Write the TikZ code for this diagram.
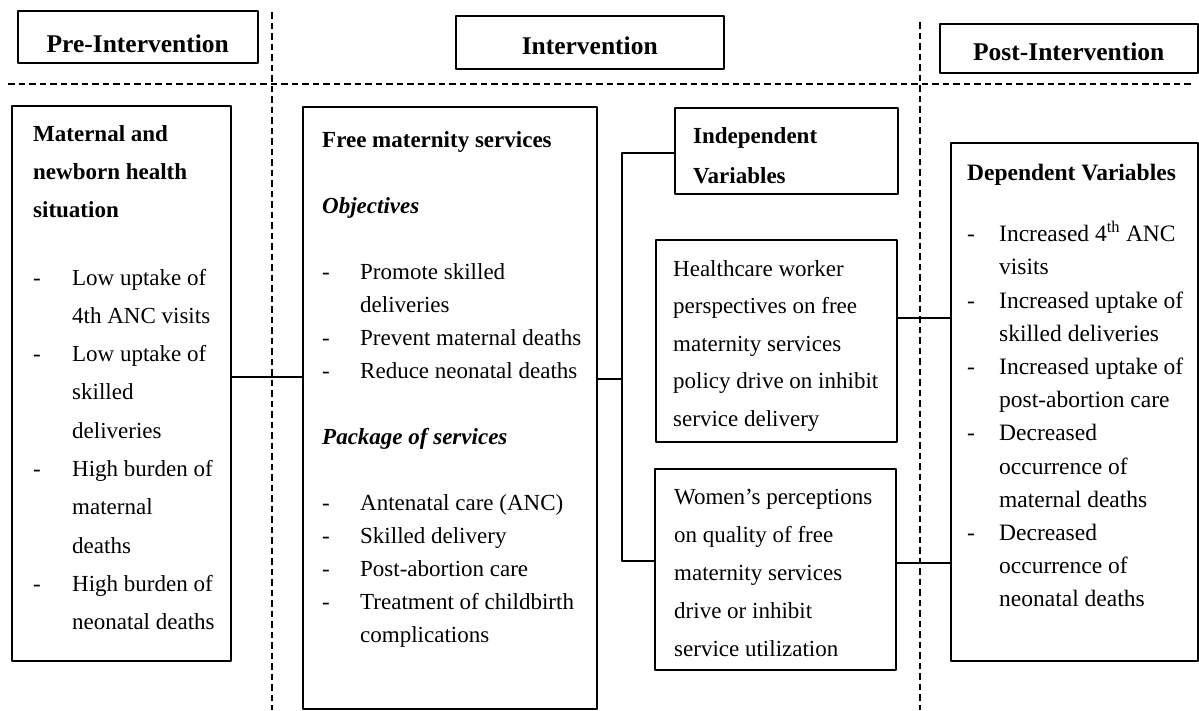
\documentclass[tikz,border=0pt]{standalone}
\usepackage{fontspec}
\setmainfont{Liberation Serif}

\newlength{\itmw}
\newcommand{\itm}{\makebox[\itmw][l]{-}}
\newcommand{\cnt}{\hspace*{\itmw}}

\begin{document}
\begin{tikzpicture}[x=1pt,y=-1pt,line cap=round,line join=round,
    panel/.style={draw, line width=1.5pt, anchor=north west, inner sep=0pt},
    head/.style={panel, font=\fontsize{25.5}{30}\selectfont\bfseries},
    txt/.style={anchor=north west, inner sep=0pt, align=left},
    conn/.style={line width=1.6pt},
    divider/.style={line width=1.3pt, line cap=butt, dash pattern=on 6.5pt off 4pt}]

    \useasboundingbox (0,0) rectangle (1199,710);

    % phase dividers
    \draw[divider] (8,84) -- (1192,84);
    \draw[divider] (272,12) -- (272,710);
    \draw[divider] (920,22) -- (920,710);

    % phase headings
    \node[head, minimum width=240pt, text height=42pt, text depth=10pt] (pre) at (17,10) {Pre-Intervention};
    \node[head, minimum width=268pt, text height=39pt, text depth=14pt] (int) at (455,15) {Intervention};
    \node[head, minimum width=258pt, text height=37pt, text depth=12pt] (post) at (939,23) {Post-Intervention};

    % boxes
    \node[panel, minimum width=219pt, minimum height=555pt] (sit) at (11,105) {};
    \node[panel, minimum width=294pt, minimum height=602pt] (free) at (302,106) {};
    \node[panel, minimum width=223pt, minimum height=86pt] (ind) at (674,107) {};
    \node[panel, minimum width=241pt, minimum height=202pt] (hcw) at (655,239) {};
    \node[panel, minimum width=241pt, minimum height=201pt] (women) at (654,468) {};
    \node[panel, minimum width=247pt, minimum height=518pt] (dep) at (950,142) {};

    % box texts
    \node[txt, font={\fontsize{23}{38.3}\selectfont\setlength{\itmw}{39pt}}] (sitText) at (33,125) {%
        \textbf{Maternal and}\\ \textbf{newborn health}\\ \textbf{situation}\\[29pt]
        \itm Low uptake of\\ \cnt 4th ANC visits\\
        \itm Low uptake of\\ \cnt skilled\\ \cnt deliveries\\
        \itm High burden of\\ \cnt maternal\\ \cnt deaths\\
        \itm High burden of\\ \cnt neonatal deaths};

    \node[txt, font={\fontsize{23}{33}\selectfont\setlength{\itmw}{38pt}}] (freeText) at (322,131) {%
        \textbf{Free maternity services}\\[33pt]
        \textbf{\textit{Objectives}}\\[33pt]
        \itm Promote skilled\\ \cnt deliveries\\
        \itm Prevent maternal deaths\\
        \itm Reduce neonatal deaths\\[33pt]
        \textbf{\textit{Package of services}}\\[33pt]
        \itm Antenatal care (ANC)\\
        \itm Skilled delivery\\
        \itm Post-abortion care\\
        \itm Treatment of childbirth\\ \cnt complications};

    \node[txt, font={\fontsize{23}{40}\selectfont\bfseries}] (indText) at (693,127) {Independent\\ Variables};

    \node[txt, font={\fontsize{23}{37.5}\selectfont}] (hcwText) at (673,260) {%
        Healthcare worker\\ perspectives on free\\ maternity services\\
        policy drive on inhibit\\ service delivery};

    \node[txt, font={\fontsize{23}{38}\selectfont}] (womenText) at (674,489) {%
        Women’s perceptions\\ on quality of free\\ maternity services\\
        drive or inhibit\\ service utilization};

    \node[txt, font={\fontsize{23.5}{33.2}\selectfont\setlength{\itmw}{32pt}}] (depText) at (967,164) {%
        \textbf{Dependent Variables}\\[28pt]
        \itm Increased 4\textsuperscript{th} ANC\\ \cnt visits\\
        \itm Increased uptake of\\ \cnt skilled deliveries\\
        \itm Increased uptake of\\ \cnt post-abortion care\\
        \itm Decreased\\ \cnt occurrence of\\ \cnt maternal deaths\\
        \itm Decreased\\ \cnt occurrence of\\ \cnt neonatal deaths};

    % links
    \coordinate (inLvl) at (0,377);
    \coordinate (fork) at (622,379);
    \coordinate (forkTop) at (622,153);
    \coordinate (forkBot) at (622,561);
    \coordinate (hcwLvl) at (0,318);
    \coordinate (womenLvl) at (0,563);

    \draw[conn] (sit.east |- inLvl) -- (free.west |- inLvl);
    \draw[conn] (free.east |- fork) -- (fork);
    \draw[conn] (ind.west |- forkTop) -- (forkTop) -- (forkBot) -- (women.west |- forkBot);
    \draw[conn] (hcw.east |- hcwLvl) -- (dep.west |- hcwLvl);
    \draw[conn] (women.east |- womenLvl) -- (dep.west |- womenLvl);
\end{tikzpicture}
\end{document}
